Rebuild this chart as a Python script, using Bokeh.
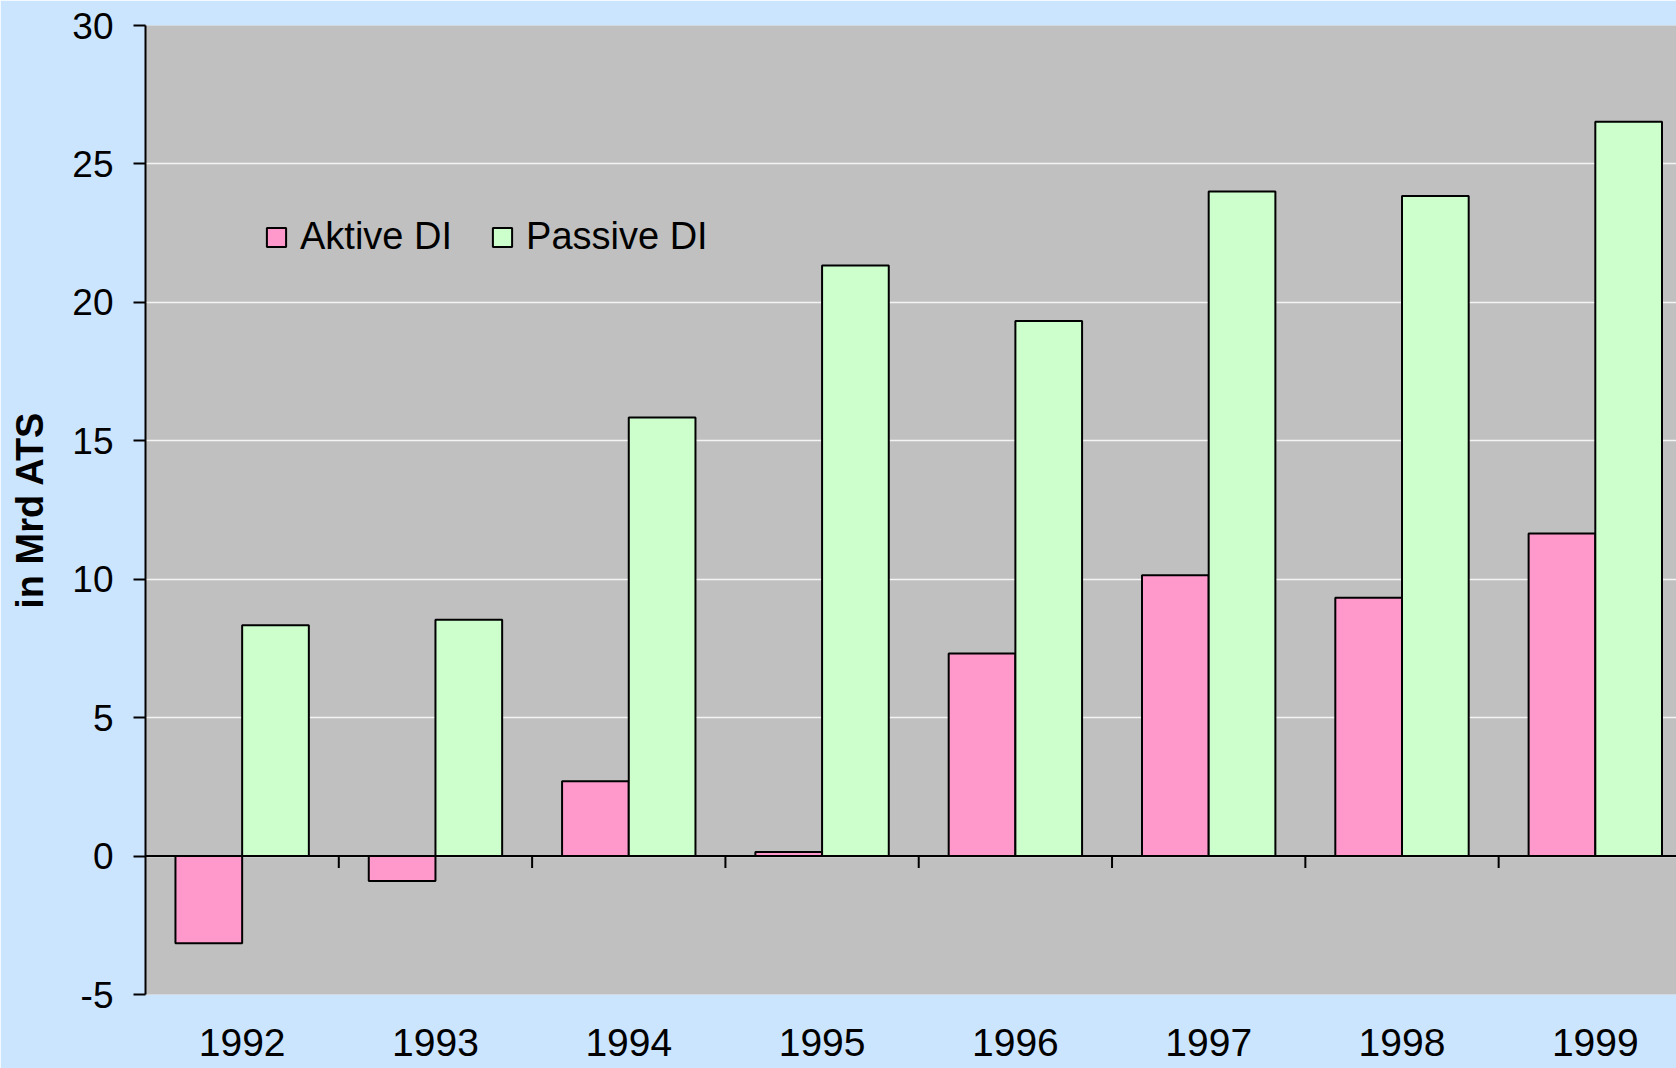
from bokeh.plotting import figure
from bokeh.models import Range1d, FixedTicker, Span, Legend, LegendItem, ColumnDataSource
from bokeh.transform import dodge
from bokeh.embed import file_html
from bokeh.resources import INLINE

# ---- data ----
years = [1992, 1993, 1994, 1995, 1996, 1997, 1998, 1999]
aktive = [-3.15, -0.9, 2.7, 0.15, 7.32, 10.14, 9.33, 11.65]
passive = [8.34, 8.54, 15.84, 21.33, 19.33, 24.0, 23.84, 26.52]
y_ticks = [-5, 0, 5, 10, 15, 20, 25, 30]
y_tick_labels = ["-5", "0", "5", "10", "15", "20", "25", "30"]
series_names = ["Aktive DI", "Passive DI"]
y_title = "in Mrd ATS"

FONT = "Liberation Sans"
BG_OUT = "#CCE5FF"
BG_IN = "#C0C0C0"
PINK = "#FF99CC"
GREEN = "#CCFFCC"

src = ColumnDataSource(dict(year=years, aktive=aktive, passive=passive))

p = figure(width=1676, height=1068, output_backend="svg", toolbar_location=None,
           x_range=Range1d(1991.5, 1999.42), y_range=Range1d(-5, 30),
           min_border_left=145, min_border_right=0, min_border_top=25, min_border_bottom=74)
p.background_fill_color = BG_IN
p.border_fill_color = BG_OUT
p.outline_line_color = None

bw = 0.345
r1 = p.vbar(x=dodge("year", -bw / 2, range=p.x_range), top="aktive", bottom=0, width=bw,
            source=src, fill_color=PINK, line_color="black", line_width=2)
r2 = p.vbar(x=dodge("year", bw / 2, range=p.x_range), top="passive", bottom=0, width=bw,
            source=src, fill_color=GREEN, line_color="black", line_width=2)

# category boundary ticks on the zero line
bounds = [y + 0.5 for y in years[:-1]]
p.segment(x0=bounds, y0=[0] * len(bounds), x1=bounds, y1=[-0.43] * len(bounds),
          line_color="black", line_width=2)

p.add_layout(Span(location=0, dimension="width", line_color="black", line_width=2))

# grid
p.xgrid.visible = False
p.ygrid.ticker = FixedTicker(ticks=y_ticks)
p.ygrid.grid_line_color = "#F4F4F4"
p.ygrid.grid_line_width = 1.5
p.ygrid.level = "underlay"

# y axis
ya = p.yaxis[0]
ya.ticker = FixedTicker(ticks=y_ticks)
ya.major_label_overrides = dict(zip(y_ticks, y_tick_labels))
ya.axis_line_color = "black"
ya.axis_line_width = 2
ya.major_tick_line_width = 2
ya.major_tick_line_color = "black"
ya.major_tick_out = 12
ya.major_tick_in = 0
ya.minor_tick_line_color = None
ya.major_label_text_font = FONT
ya.major_label_text_font_size = "37px"
ya.major_label_text_color = "black"
ya.major_label_standoff = 20
ya.axis_label = y_title
ya.axis_label_text_font = FONT
ya.axis_label_text_font_size = "38px"
ya.axis_label_text_font_style = "bold"
ya.axis_label_text_color = "black"
ya.axis_label_standoff = 18

# x axis
xa = p.xaxis[0]
xa.ticker = FixedTicker(ticks=years)
xa.major_label_overrides = {y: str(y) for y in years}
xa.axis_line_color = None
xa.major_tick_line_color = None
xa.minor_tick_line_color = None
xa.major_label_text_font = FONT
xa.major_label_text_font_size = "39px"
xa.major_label_text_color = "black"
xa.major_label_standoff = 28

legend = Legend(items=[LegendItem(label=series_names[0], renderers=[r1]),
                       LegendItem(label=series_names[1], renderers=[r2])],
                orientation="horizontal", location=(119, 736),
                background_fill_alpha=0, border_line_color=None,
                padding=0, margin=0, spacing=38,
                glyph_width=24, glyph_height=24, label_standoff=12,
                label_text_font=FONT, label_text_font_size="38px",
                label_text_color="black")
p.add_layout(legend)

open("out.html", "w").write(file_html(p, INLINE))
